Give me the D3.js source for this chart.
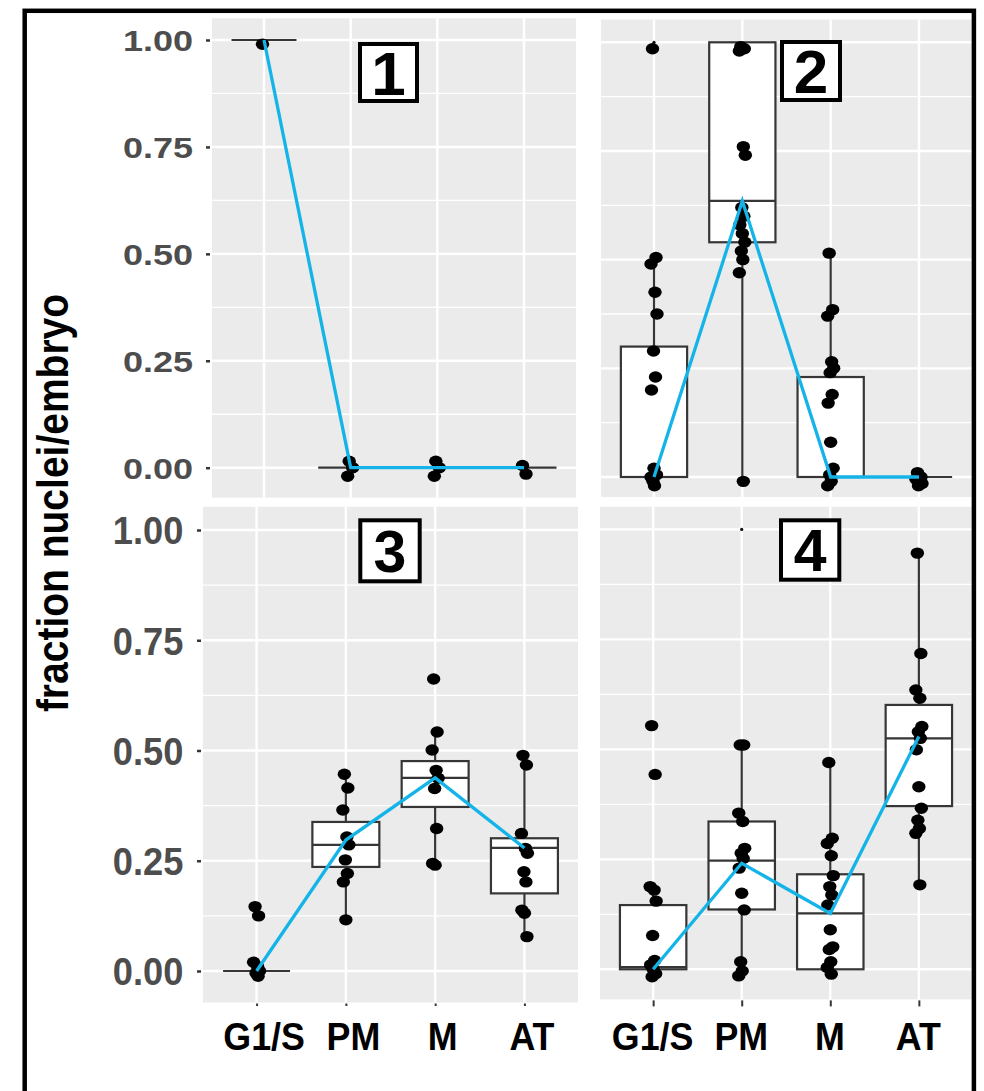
<!DOCTYPE html>
<html>
<head>
<meta charset="utf-8">
<script src="https://cdn.jsdelivr.net/npm/d3@7"></script>
<style>
  body { margin: 0; background: #fff; }
  svg { display: block; }
  text { font-family: "Liberation Sans", Arial, Helvetica, sans-serif; font-weight: bold; }
</style>
</head>
<body>
<div id="wrapper"></div>
<script>
/*global d3 */

//****************************1. Data

const phases = ["G1/S", "PM", "M", "AT"]
const yTicks = [0, 0.25, 0.5, 0.75, 1]
const yMinor = [0.125, 0.375, 0.625, 0.875]
const yTitle = "fraction nuclei/embryo"

// jittered points, one list per phase (G1/S, PM, M, AT)
const p1Points = [
    [0.99],
    [0.015, 0.0, -0.02],
    [0.015, 0.0, -0.02],
    [0.005, -0.015]
]
const p2Points = [
    [0.985, 0.505, 0.49, 0.425, 0.375, 0.29, 0.23, 0.2, 0.02, 0.005, -0.01, -0.02, 0.0],
    [0.99, 0.985, 0.98, 0.76, 0.74, 0.62, 0.6, 0.58, 0.56, 0.54, 0.52, 0.5, 0.47, -0.01],
    [0.515, 0.385, 0.37, 0.265, 0.25, 0.24, 0.19, 0.17, 0.08, 0.02, 0.005, -0.01, -0.02],
    [0.01, 0.0, -0.005, -0.01, -0.015, -0.02]
]
const p3Points = [
    [0.146, 0.125, 0.02, 0.01, 0.0, -0.005, -0.012],
    [0.446, 0.415, 0.365, 0.304, 0.286, 0.252, 0.221, 0.202, 0.116],
    [0.662, 0.542, 0.501, 0.455, 0.437, 0.414, 0.323, 0.244, 0.24],
    [0.489, 0.467, 0.312, 0.278, 0.267, 0.225, 0.202, 0.138, 0.131, 0.078]
]
const p4Points = [
    [0.554, 0.443, 0.188, 0.18, 0.155, 0.077, 0.02, 0.01, 0.0, -0.01, -0.017],
    [0.51, 0.51, 0.355, 0.336, 0.275, 0.264, 0.252, 0.23, 0.173, 0.135, 0.017, -0.004, -0.015],
    [0.47, 0.298, 0.286, 0.258, 0.213, 0.188, 0.169, 0.146, 0.09, 0.051, 0.045, 0.017, 0.004, -0.011],
    [0.946, 0.718, 0.635, 0.616, 0.552, 0.54, 0.525, 0.499, 0.415, 0.366, 0.339, 0.32, 0.309, 0.192]
]

// box stats per phase: [lower whisker, q1, median, q3, upper whisker]
const p1Boxes = [[1, 1, 1, 1, 1], [0, 0, 0, 0, 0], [0, 0, 0, 0, 0], [0, 0, 0, 0, 0]]
const p2Boxes = [[0, 0, 0, 0.3, 0.5], [0, 0.54, 0.635, 1, 1], [0, 0, 0, 0.23, 0.515], [0, 0, 0, 0, 0]]
const p3Boxes = [[0, 0, 0, 0, 0], [0.116, 0.236, 0.286, 0.338, 0.435], [0.24, 0.372, 0.438, 0.476, 0.542], [0.078, 0.176, 0.279, 0.301, 0.475]]
const p4Boxes = [[0, 0, 0.005, 0.146, 0.188], [0, 0.136, 0.247, 0.336, 0.51], [0, 0, 0.127, 0.216, 0.47], [0.192, 0.371, 0.525, 0.601, 0.946]]

// boxplot outliers (small dots)
const p2Outliers = [["G1/S", 1.0]]
const p4Outliers = [["PM", 1.0]]

// blue summary line
const p1Line = [1, 0, 0, 0]
const p2Line = [0, 0.635, 0, 0]
const p3Line = [0, 0.297, 0.438, 0.279]
const p4Line = [0, 0.241, 0.127, 0.529]

//****************************2. Layout

const panels = [
    { label: "1", points: p1Points, boxes: p1Boxes, line: p1Line, outliers: [],
      x0: 212, x1: 576, top: 18.3, bottom: 497.7, yOne: 40, yZero: 467.7,
      tag: [358, 42, 61, 61], tagSize: 62,
      yAxis: { size: 30, sx: 1.2, right: 193, gap: 2 }, xAxis: null },
    { label: "2", points: p2Points, boxes: p2Boxes, line: p2Line, outliers: p2Outliers,
      x0: 601, x1: 972, top: 19.5, bottom: 497, yOne: 42.3, yZero: 477,
      tag: [780, 40, 62, 62], tagSize: 62,
      yAxis: null, xAxis: null },
    { label: "3", points: p3Points, boxes: p3Boxes, line: p3Line, outliers: [],
      x0: 203, x1: 578, top: 506.8, bottom: 1002.5, yOne: 530, yZero: 971,
      tag: [358.3, 518.3, 63.4, 65], tagSize: 59,
      yAxis: { size: 39, sx: 0.93, right: 183.3, gap: 2 }, xAxis: { dx: 7, tick: 2.5 } },
    { label: "4", points: p4Points, boxes: p4Boxes, line: p4Line, outliers: p4Outliers,
      x0: 600, x1: 972, top: 506.8, bottom: 999.4, yOne: 529.4, yZero: 969.3,
      tag: [779, 518.3, 62.3, 63.4], tagSize: 59,
      yAxis: null, xAxis: { dx: -1, tick: 6 } }
]

const jitter = [-1.5, 2, -3, 1, 3, -0.5, 1.5, -2.5, 0, 2.5, -1, 0.5, -3, 1]

const lineColor = "#14b4e8"
const boxStroke = "#363636"

//****************************3. Canvas

const svg = d3.select("#wrapper")
    .append("svg")
    .attr("width", 984)
    .attr("height", 1091)

//****************************4. Panels

panels.forEach(p => {

    const xScale = d3.scalePoint()
        .domain(phases)
        .range([p.x0, p.x1])
        .padding(0.6)

    const yScale = d3.scaleLinear()
        .domain([0, 1])
        .range([p.yZero, p.yOne])

    const g = svg.append("g")

    // background
    g.append("rect")
        .attr("x", p.x0)
        .attr("y", p.top)
        .attr("width", p.x1 - p.x0)
        .attr("height", p.bottom - p.top)
        .attr("fill", "#ebebeb")

    // grid
    g.selectAll(".minor")
        .data(yMinor)
        .join("line")
        .attr("x1", p.x0).attr("x2", p.x1)
        .attr("y1", d => yScale(d)).attr("y2", d => yScale(d))
        .attr("stroke", "#fff")
        .attr("stroke-width", 1.3)

    g.selectAll(".major-y")
        .data(yTicks)
        .join("line")
        .attr("x1", p.x0).attr("x2", p.x1)
        .attr("y1", d => yScale(d)).attr("y2", d => yScale(d))
        .attr("stroke", "#fff")
        .attr("stroke-width", 2.4)

    g.selectAll(".major-x")
        .data(phases)
        .join("line")
        .attr("x1", d => xScale(d)).attr("x2", d => xScale(d))
        .attr("y1", p.top).attr("y2", p.bottom)
        .attr("stroke", "#fff")
        .attr("stroke-width", 2.4)

    // boxplots
    const boxW = xScale.step() * 0.75
    const boxData = phases.map((c, i) => ({ phase: c, s: p.boxes[i] }))

    const bg = g.append("g")
    bg.selectAll(".whisker-lo")
        .data(boxData)
        .join("line")
        .attr("x1", d => xScale(d.phase)).attr("x2", d => xScale(d.phase))
        .attr("y1", d => yScale(d.s[0])).attr("y2", d => yScale(d.s[1]))
        .attr("stroke", boxStroke).attr("stroke-width", 2.2)
    bg.selectAll(".whisker-hi")
        .data(boxData)
        .join("line")
        .attr("x1", d => xScale(d.phase)).attr("x2", d => xScale(d.phase))
        .attr("y1", d => yScale(d.s[3])).attr("y2", d => yScale(d.s[4]))
        .attr("stroke", boxStroke).attr("stroke-width", 2.2)
    bg.selectAll(".box")
        .data(boxData)
        .join("rect")
        .attr("x", d => xScale(d.phase) - boxW / 2)
        .attr("y", d => yScale(d.s[3]))
        .attr("width", boxW)
        .attr("height", d => yScale(d.s[1]) - yScale(d.s[3]))
        .attr("fill", "#fff")
        .attr("stroke", boxStroke)
        .attr("stroke-width", 2.2)
    bg.selectAll(".median")
        .data(boxData)
        .join("line")
        .attr("x1", d => xScale(d.phase) - boxW / 2)
        .attr("x2", d => xScale(d.phase) + boxW / 2)
        .attr("y1", d => yScale(d.s[2])).attr("y2", d => yScale(d.s[2]))
        .attr("stroke", boxStroke).attr("stroke-width", 2.2)

    // outliers
    g.selectAll(".outlier")
        .data(p.outliers)
        .join("circle")
        .attr("cx", d => xScale(d[0]))
        .attr("cy", d => yScale(d[1]))
        .attr("r", 1.6)
        .attr("fill", "#111")

    // jittered points
    const pts = []
    phases.forEach((c, i) => {
        p.points[i].forEach((v, j) => pts.push({ phase: c, value: v, j: j }))
    })
    g.selectAll(".pt")
        .data(pts)
        .join("ellipse")
        .attr("cx", d => xScale(d.phase) + jitter[d.j % jitter.length])
        .attr("cy", d => yScale(d.value))
        .attr("rx", 6.7)
        .attr("ry", 5.7)
        .attr("fill", "#000")

    // summary line
    const lineGen = d3.line()
        .x((d, i) => xScale(phases[i]))
        .y(d => yScale(d))
    g.append("path")
        .attr("d", lineGen(p.line))
        .attr("fill", "none")
        .attr("stroke", lineColor)
        .attr("stroke-width", 3.3)

    // panel tag
    const [tx, ty, tw, th] = p.tag
    g.append("rect")
        .attr("x", tx + 2).attr("y", ty + 2)
        .attr("width", tw - 4).attr("height", th - 4)
        .attr("fill", "#fff")
        .attr("stroke", "#000")
        .attr("stroke-width", 4)
    g.append("text")
        .attr("x", tx + tw / 2)
        .attr("y", ty + th / 2 + p.tagSize * 0.358)
        .attr("text-anchor", "middle")
        .attr("font-size", p.tagSize)
        .attr("fill", "#000")
        .text(p.label)

    // y axis
    if (p.yAxis) {
        const a = p.yAxis
        const axisX = p.x0 - a.gap
        const yAxis = g.append("g")
            .attr("transform", `translate(${axisX},0)`)
            .call(d3.axisLeft(yScale).tickValues(yTicks).tickFormat(d3.format(".2f")).tickSize(4))
        yAxis.select(".domain").remove()
        yAxis.selectAll(".tick line").attr("stroke", boxStroke).attr("stroke-width", 2.5)
        yAxis.selectAll(".tick text")
            .attr("x", null).attr("dy", null)
            .attr("text-anchor", "end")
            .attr("transform", `translate(${a.right - axisX},${a.size * 0.358}) scale(${a.sx},1)`)
            .attr("font-size", a.size)
            .attr("font-family", null)
            .attr("fill", "#4d4d4d")
    }

    // x axis
    if (p.xAxis) {
        const a = p.xAxis
        const axisY = p.bottom + 1
        const xAxis = g.append("g")
            .attr("transform", `translate(0,${axisY})`)
            .call(d3.axisBottom(xScale).tickSize(a.tick))
        xAxis.select(".domain").remove()
        xAxis.selectAll(".tick line").attr("stroke", boxStroke).attr("stroke-width", 2)
        xAxis.selectAll(".tick text")
            .attr("y", null).attr("dy", null)
            .attr("transform", `translate(${a.dx},${1050 - axisY}) scale(0.93,1)`)
            .attr("font-size", 38.5)
            .attr("font-family", null)
            .attr("fill", "#000")
    }
})

//****************************5. Peripherals

svg.append("text")
    .attr("transform", "translate(68,503) rotate(-90) scale(1,1.13)")
    .attr("text-anchor", "middle")
    .attr("font-size", 39)
    .attr("fill", "#000")
    .text(yTitle)

svg.append("rect")
    .attr("x", 24.7)
    .attr("y", 10.8)
    .attr("width", 949.2)
    .attr("height", 1200)
    .attr("fill", "none")
    .attr("stroke", "#000")
    .attr("stroke-width", 4.5)
</script>
</body>
</html>
